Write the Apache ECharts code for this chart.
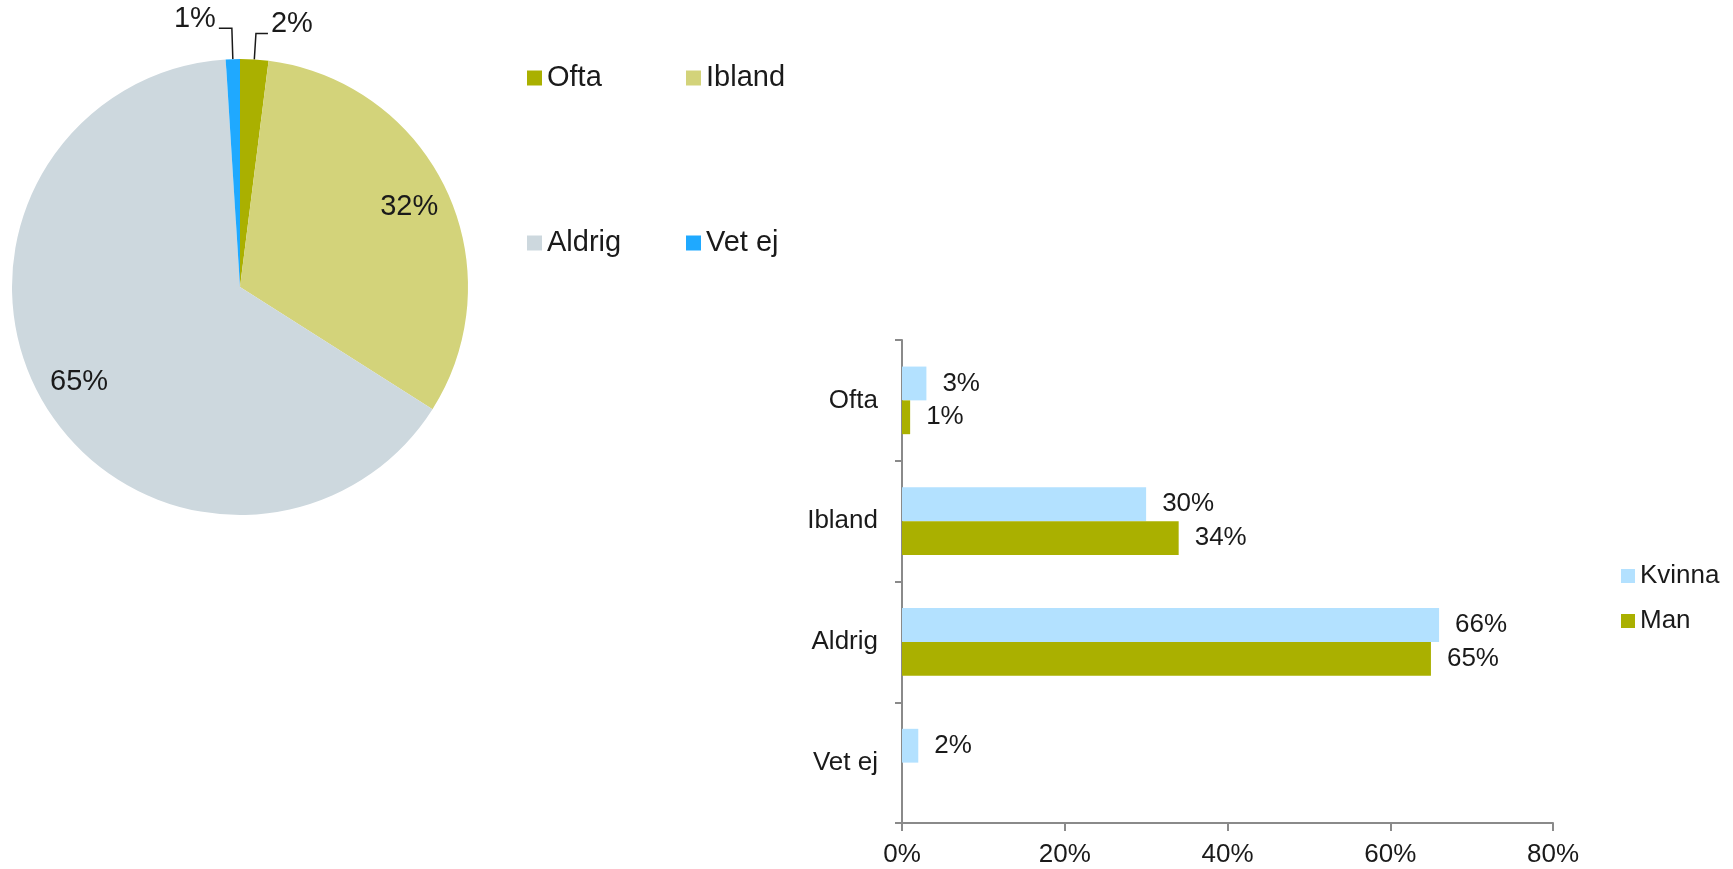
<!DOCTYPE html>
<html>
<head>
<meta charset="utf-8">
<script src="https://cdn.jsdelivr.net/npm/echarts@6/dist/echarts.min.js"></script>
<style>
  html, body { margin: 0; padding: 0; background: #fff; }
  #chart { width: 1733px; height: 869px; }
</style>
</head>
<body>
<div id="chart"></div>
<script>
// answer categories and overall shares (pie)
const answers = ['Ofta', 'Ibland', 'Aldrig', 'Vet ej']
const totalShare = [2, 32, 65, 1]

// shares by gender (bars)
const genders = ['Kvinna', 'Man']
const kvinnaShare = [3, 30, 66, 2]
const manShare = [1, 34, 65, 0]

// x axis ticks (%)
const xTicks = [0, 20, 40, 60, 80]

const pieColors = ['#aab000', '#d3d37a', '#cdd8de', '#1fa9ff']
const genderColors = ['#b3e1ff', '#aab000']
const textColor = '#1a1a1a'
const axisColor = '#8a8a8a'
const font = '"Liberation Sans", Arial, sans-serif'

// leader line lengths for the thin slices
const leader = { 'Ofta': [26, 12], 'Vet ej': [31, 13] }

const chart = echarts.init(document.getElementById('chart'))

// visible slices, only thin slices get outside labels
const pieData = answers.map((name, i) => {
  const small = leader[name]
  return {
    name: name,
    value: totalShare[i],
    itemStyle: { color: pieColors[i] },
    label: { show: !!small },
    labelLine: small ? { show: true, length: small[0], length2: small[1] } : { show: false }
  }
})

// transparent ring only used to place the big labels further out
const pieLabelData = answers.map((name, i) => ({
  name: name,
  value: totalShare[i],
  itemStyle: { color: 'transparent' },
  label: { show: !leader[name] }
}))

const legendText = { color: textColor, fontSize: 29, fontFamily: font, lineHeight: 30 }

chart.setOption({
  animation: false,
  textStyle: { fontFamily: font },
  legend: [
    {
      data: ['Ofta', 'Aldrig'],
      orient: 'vertical', left: 527, top: 63, padding: 0,
      itemWidth: 15, itemHeight: 15, itemGap: 135,
      icon: 'rect', selectedMode: false, textStyle: legendText
    },
    {
      data: ['Ibland', 'Vet ej'],
      orient: 'vertical', left: 686, top: 63, padding: 0,
      itemWidth: 15, itemHeight: 15, itemGap: 135,
      icon: 'rect', selectedMode: false, textStyle: legendText
    },
    {
      data: genders,
      orient: 'vertical', left: 1621, top: 562, padding: 0,
      itemWidth: 14, itemHeight: 14, itemGap: 17,
      icon: 'rect', selectedMode: false,
      textStyle: { color: textColor, fontSize: 26, fontFamily: font, lineHeight: 28 }
    }
  ],
  grid: { left: 902, top: 340, width: 651, height: 483 },
  xAxis: {
    type: 'value',
    min: xTicks[0],
    max: xTicks[xTicks.length - 1],
    interval: xTicks[1] - xTicks[0],
    splitLine: { show: false },
    axisLine: { show: true, lineStyle: { color: axisColor, width: 2 } },
    axisTick: { show: true, length: 8, lineStyle: { color: axisColor, width: 2 } },
    axisLabel: { formatter: '{value}%', color: textColor, fontSize: 26, margin: 19 }
  },
  yAxis: {
    type: 'category',
    data: answers,
    inverse: true,
    axisLine: { show: true, lineStyle: { color: axisColor, width: 2 } },
    axisTick: { show: true, length: 7, lineStyle: { color: axisColor, width: 2 } },
    axisLabel: { color: textColor, fontSize: 26, margin: 24 }
  },
  series: [
    {
      type: 'pie',
      center: [240, 287],
      radius: [0, 228],
      startAngle: 90,
      clockwise: true,
      silent: true,
      avoidLabelOverlap: false,
      data: pieData,
      label: {
        position: 'outside',
        // empty second line lifts the text above the leader end
        formatter: '{c}%\n ',
        lineHeight: 19,
        color: textColor,
        fontSize: 29,
        distanceToLabelLine: 3
      },
      labelLine: { smooth: false, lineStyle: { color: textColor, width: 1.5 } }
    },
    {
      type: 'pie',
      center: [240, 287],
      radius: [140, 228],
      startAngle: 90,
      clockwise: true,
      silent: true,
      data: pieLabelData,
      label: { position: 'inside', formatter: '{c}%', color: textColor, fontSize: 29 },
      labelLine: { show: false }
    },
    {
      name: genders[0],
      type: 'bar',
      data: kvinnaShare,
      itemStyle: { color: genderColors[0] },
      barGap: '0%',
      barCategoryGap: '44%',
      label: {
        show: true, position: 'right', distance: 16,
        color: textColor, fontSize: 26,
        formatter: p => (p.value ? p.value + '%' : '')
      }
    },
    {
      name: genders[1],
      type: 'bar',
      data: manShare,
      itemStyle: { color: genderColors[1] },
      barGap: '0%',
      barCategoryGap: '44%',
      label: {
        show: true, position: 'right', distance: 16,
        color: textColor, fontSize: 26,
        formatter: p => (p.value ? p.value + '%' : '')
      }
    }
  ]
})
</script>
</body>
</html>
